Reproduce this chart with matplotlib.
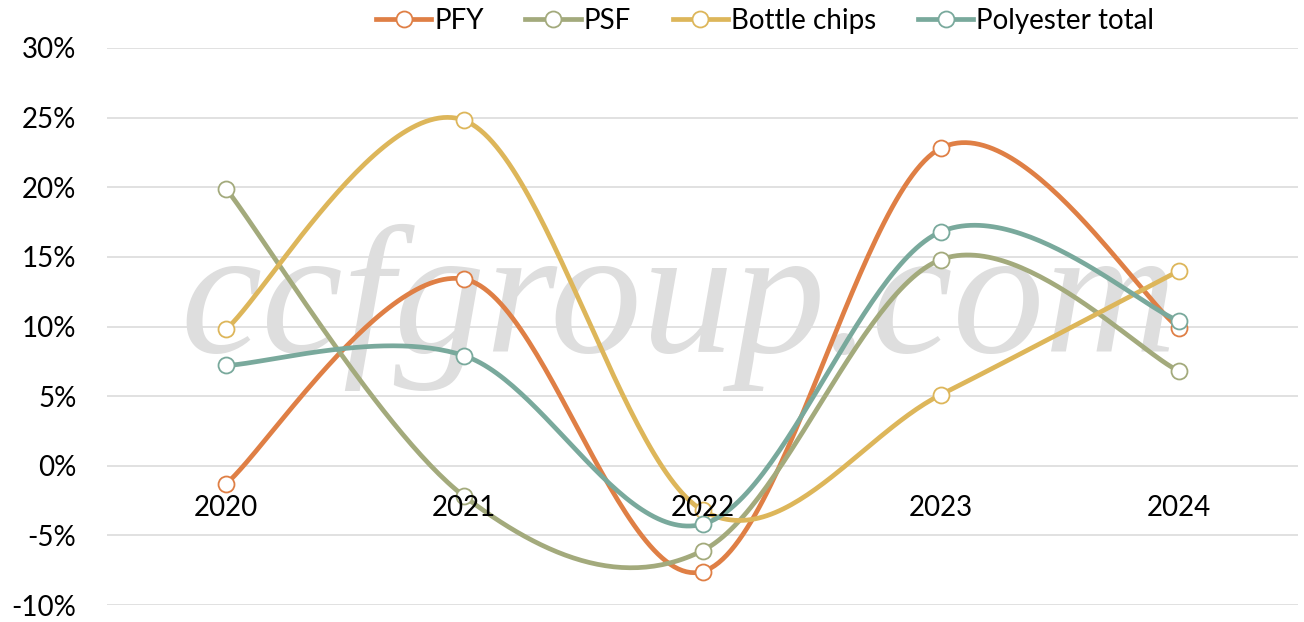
import numpy as np
import matplotlib
matplotlib.use("Agg")
import matplotlib.pyplot as plt
from matplotlib.lines import Line2D

# -------- data (growth rates, %) --------
years = [2020, 2021, 2022, 2023, 2024]
pfy = [-1.3, 13.4, -7.6, 22.8, 9.9]
psf = [19.9, -2.2, -6.1, 14.8, 6.8]
bottle_chips = [9.8, 24.8, -3.2, 5.1, 14.0]
polyester_total = [7.2, 7.9, -4.2, 16.8, 10.4]

series_names = ["PFY", "PSF", "Bottle chips", "Polyester total"]
series_values = [pfy, psf, bottle_chips, polyester_total]
colors = ["#DF7F45", "#A3AA7C", "#DDB65A", "#79A99C"]

y_ticks = [-10, -5, 0, 5, 10, 15, 20, 25, 30]


def smooth(xs, ys, n=60):
    """Excel-style smoothed line: Catmull-Rom through cubic Bezier segments."""
    p = np.column_stack([xs, ys]).astype(float)
    pts = np.vstack([p[0], p, p[-1]])
    t = np.linspace(0, 1, n)[:, None]
    out = []
    for i in range(len(p) - 1):
        p0, p1, p2, p3 = pts[i], pts[i + 1], pts[i + 2], pts[i + 3]
        c1 = p1 + (p2 - p0) / 6.0
        c2 = p2 - (p3 - p1) / 6.0
        seg = ((1 - t) ** 3) * p1 + 3 * ((1 - t) ** 2) * t * c1 \
            + 3 * (1 - t) * t ** 2 * c2 + t ** 3 * p2
        out.append(seg if i == 0 else seg[1:])
    out = np.vstack(out)
    return out[:, 0], out[:, 1]


plt.rcParams["font.family"] = ["Lato", "DejaVu Sans"]

fig = plt.figure(figsize=(13.04, 6.22), dpi=100)
ax = fig.add_axes([107 / 1304, 1 - 605 / 622, (1298 - 107) / 1304, (605 - 48) / 622])

# watermark
ax.text(2021.9, 8.2, "ccfgroup.com", transform=ax.transData, ha="center", va="baseline",
        fontsize=132, family="Liberation Serif", style="italic", color="#DEDEDE", zorder=1)

handles = []
for name, vals, c in zip(series_names, series_values, colors):
    sx, sy = smooth(years, vals)
    ax.plot(sx, sy, color=c, lw=3.4, solid_capstyle="round", zorder=3)
    ax.plot(years, vals, ls="none", marker="o", ms=11.5, mfc="white", mec=c, mew=1.3, zorder=4)
    handles.append(Line2D([0], [0], color=c, lw=3.4, marker="o", ms=11.5, mfc="white", mec=c, mew=1.3))

ax.set_xlim(2019.5, 2024.5)
ax.set_ylim(-10, 30)
ax.set_yticks(y_ticks)
ax.set_yticklabels([f"{v}%" for v in y_ticks])
ax.set_xticks(years)
ax.set_xticklabels([str(y) for y in years])
ax.yaxis.grid(True, color="#D9D9D9", lw=1.1, zorder=0)
ax.set_axisbelow(True)
ax.xaxis.set_zorder(5)
for s in ["top", "right", "left"]:
    ax.spines[s].set_visible(False)
ax.spines["bottom"].set_position(("data", 0))
ax.spines["bottom"].set_visible(False)
ax.tick_params(axis="y", length=0, pad=22, labelsize=20)
ax.tick_params(axis="x", length=0, pad=21, labelsize=20)

fig.legend(handles, series_names, loc="center", bbox_to_anchor=(765 / 1304, 1 - 21 / 622),
           ncol=4, frameon=False, fontsize=20, handlelength=2.0, handletextpad=0.1,
           columnspacing=1.5, borderpad=0)

fig.savefig("out.png", dpi=100)
